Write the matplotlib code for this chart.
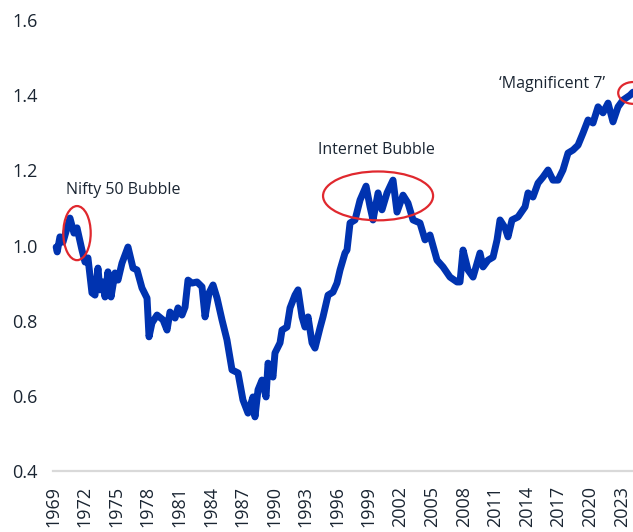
import matplotlib
matplotlib.use("Agg")
import matplotlib.pyplot as plt
from matplotlib.patches import Ellipse

plt.rcParams['font.family'] = ['Open Sans', 'DejaVu Sans']

# relative value series
years = [1969.3, 1969.4, 1969.66, 1969.95, 1970.61, 1970.99, 1971.28, 1971.75, 1972.04, 1972.32,
         1972.70, 1972.99, 1973.27, 1973.46, 1973.75, 1973.94, 1974.22, 1974.51, 1974.89, 1975.17,
         1975.55, 1976.12, 1976.60, 1976.98, 1977.45, 1977.93, 1978.12, 1978.40, 1978.88, 1979.45,
         1979.83, 1980.11, 1980.59, 1980.87, 1981.25, 1981.54, 1981.82, 1982.20, 1982.68, 1983.15,
         1983.44, 1983.82, 1984.20, 1984.58, 1985.05, 1985.52, 1986.00, 1986.57, 1987.04, 1987.52,
         1987.99, 1988.18, 1988.47, 1988.85, 1989.23, 1989.42, 1989.89, 1990.08, 1990.56, 1990.75,
         1991.22, 1991.51, 1991.98, 1992.27, 1992.65, 1992.93, 1993.22, 1993.60, 1993.88, 1994.36,
         1994.64, 1995.12, 1995.59, 1995.97, 1996.26, 1996.73, 1996.92, 1997.21, 1997.68, 1998.16,
         1998.73, 1999.11, 1999.39, 1999.87, 2000.24, 2000.72, 2001.29, 2001.67, 2002.24, 2002.71,
         2003.19, 2003.85, 2004.33, 2004.80, 2005.47, 2006.04, 2006.70, 2007.37, 2007.65, 2007.94,
         2008.41, 2008.89, 2009.55, 2009.84, 2010.31, 2010.79, 2011.17, 2011.45, 2011.93, 2012.21,
         2012.59, 2013.16, 2013.83, 2014.11, 2014.58, 2015.06, 2015.53, 2016.01, 2016.48, 2016.96,
         2017.43, 2017.91, 2018.38, 2018.86, 2019.33, 2019.81, 2020.28, 2020.76, 2021.23, 2021.71,
         2022.18, 2022.66, 2023.13, 2023.80, 2024.08]
values = [0.996, 0.983, 1.023, 1.009, 1.073, 1.033, 1.047, 0.988, 0.956, 0.967,
          0.874, 0.868, 0.940, 0.882, 0.903, 0.863, 0.930, 0.863, 0.927, 0.908,
          0.953, 0.996, 0.940, 0.935, 0.887, 0.860, 0.757, 0.794, 0.815, 0.802,
          0.775, 0.823, 0.807, 0.834, 0.815, 0.836, 0.908, 0.900, 0.903, 0.890,
          0.810, 0.874, 0.895, 0.860, 0.802, 0.749, 0.669, 0.661, 0.589, 0.554,
          0.597, 0.544, 0.616, 0.642, 0.597, 0.687, 0.650, 0.714, 0.741, 0.775,
          0.783, 0.834, 0.868, 0.882, 0.810, 0.783, 0.810, 0.741, 0.727, 0.781,
          0.810, 0.868, 0.876, 0.900, 0.935, 0.980, 0.988, 1.060, 1.068, 1.121,
          1.158, 1.103, 1.068, 1.140, 1.095, 1.140, 1.174, 1.089, 1.134, 1.113,
          1.068, 1.060, 1.015, 1.028, 0.961, 0.943, 0.916, 0.903, 0.903, 0.988,
          0.935, 0.916, 0.980, 0.943, 0.961, 0.969, 1.015, 1.068, 1.047, 1.023,
          1.068, 1.076, 1.103, 1.140, 1.129, 1.166, 1.182, 1.201, 1.174, 1.174,
          1.201, 1.246, 1.254, 1.267, 1.299, 1.334, 1.326, 1.369, 1.353, 1.379,
          1.329, 1.369, 1.387, 1.400, 1.408]

tick_years = list(range(1969, 2024, 3))
y_ticks = [0.4, 0.6, 0.8, 1.0, 1.2, 1.4, 1.6]

# annotations: label, text position, ellipse centre, ellipse size (years, value)
notes = [
    ("Nifty 50 Bubble", (1975.65, 1.148), (1971.28, 1.033), (2.6, 0.144)),
    ("Internet Bubble", (1999.7, 1.254), (1999.87, 1.132), (10.45, 0.130)),
    ("\u2018Magnificent 7\u2019", (2016.4, 1.43), (2024.1, 1.406), (2.85, 0.058)),
]

text_col = '#1a2532'
line_col = '#0033B0'
red = '#E0282E'

fig = plt.figure(figsize=(6.33, 5.32), dpi=100)
ax = fig.add_axes([53 / 633, 61 / 532, 1 - 53 / 633, 0.8477])

ax.axhline(0.4, color='#d9d9d9', lw=1.6, zorder=1, clip_on=False)
ax.plot(years, values, color=line_col, lw=5, solid_joinstyle='round',
        solid_capstyle='round', zorder=3, clip_on=False)

for label, tpos, cpos, size in notes:
    ax.text(tpos[0], tpos[1], label, ha='center', va='center', fontsize=11.5, color=text_col)
    ax.add_patch(Ellipse(cpos, size[0], size[1], fill=False, edgecolor=red, lw=1.6,
                         zorder=4, clip_on=False))

ax.set_xlim(1969, 2024.08)
ax.set_ylim(0.4, 1.6)
ax.set_xticks(tick_years)
ax.set_xticklabels([str(y) for y in tick_years], rotation=90, fontsize=13, color=text_col)
ax.set_yticks(y_ticks)
ax.set_yticklabels([f"{v:.1f}" for v in y_ticks], fontsize=13, color=text_col)
ax.tick_params(axis='x', length=0, pad=11)
ax.tick_params(axis='y', length=0, pad=11)
for s in ax.spines.values():
    s.set_visible(False)

fig.savefig("out.png", dpi=100)
